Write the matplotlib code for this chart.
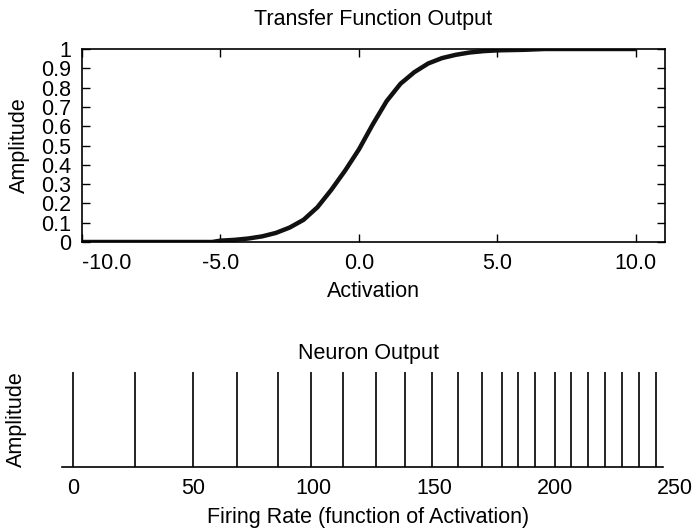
import numpy as np
import matplotlib
matplotlib.use('Agg')
import matplotlib.pyplot as plt

plt.rcParams['font.family'] = ['Liberation Sans', 'DejaVu Sans']
plt.rcParams['axes.unicode_minus'] = False

# transfer function
activation = [-10, -8, -6, -5.3, -5, -4.5, -4, -3.5, -3, -2.5, -2, -1.5,
              -1, -0.5, 0, 0.5, 1, 1.5, 2, 2.5, 3, 3.5, 4, 4.5, 5, 6, 6.7, 8, 10]
amplitude = [0.0, 0.0, 0.0, 0.0, 0.007, 0.011, 0.018, 0.029, 0.047, 0.075, 0.115,
             0.18, 0.27, 0.37, 0.48, 0.61, 0.73, 0.82, 0.88, 0.925, 0.953,
             0.97, 0.982, 0.989, 0.993, 0.996, 1.0, 1.0, 1.0]

x_ticks = [-10, -5, 0, 5, 10]
x_ticklabels = ['-10.0', '-5.0', '0.0', '5.0', '10.0']
y_ticks = [0, 0.1, 0.2, 0.3, 0.4, 0.5, 0.6, 0.7, 0.8, 0.9, 1.0]
y_ticklabels = ['0', '0.1', '0.2', '0.3', '0.4', '0.5', '0.6', '0.7', '0.8', '0.9', '1']

# spike train
spike_times = [0, 26, 50, 68, 85, 99, 112, 126, 138, 149, 160, 170, 178, 185,
               192, 200, 207, 214, 221, 228, 235, 242]
rate_ticks = [0, 50, 100, 150, 200, 250]

W, H = 695, 530
fig = plt.figure(figsize=(W / 100, H / 100), dpi=100)
FS = 15.5
TS = 15.5

# --- top panel ---
ax1 = fig.add_axes([82 / W, 1 - 242 / H, (665 - 82) / W, (242 - 49) / H])
ax1.plot(activation, amplitude, color='#111111', linewidth=3.2, solid_capstyle='butt')
ax1.set_xlim(-10, 11.05)
ax1.set_ylim(0, 1)
ax1.set_xticks(x_ticks)
ax1.set_xticklabels(x_ticklabels)
ax1.set_yticks(y_ticks)
ax1.set_yticklabels(y_ticklabels)
ax1.tick_params(direction='in', top=True, right=True, length=6, width=1,
                labelsize=TS, colors='black')
ax1.tick_params(axis='y', pad=8)
ax1.tick_params(axis='x', pad=8)
for s in ax1.spines.values():
    s.set_linewidth(1.2)
ax1.set_xlabel('Activation', fontsize=FS, labelpad=5)
ax1.set_ylabel('Amplitude', fontsize=FS, labelpad=8)
ax1.set_title('Transfer Function Output', fontsize=FS, pad=17)
ax1.get_xticklabels()[0].set_horizontalalignment('left')

# --- bottom panel ---
ax2 = fig.add_axes([62 / W, 1 - 467 / H, (675 - 62) / W, (467 - 372) / H])
ax2.vlines(spike_times, 0, 1, color='black', linewidth=1.2)
ax2.set_xlim(-4.5, 250)
ax2.set_ylim(0, 1)
ax2.set_xticks(rate_ticks)
ax2.set_yticks([])
for side in ['top', 'right', 'left']:
    ax2.spines[side].set_visible(False)
ax2.spines['bottom'].set_bounds(-4.5, 245)
ax2.spines['bottom'].set_linewidth(1.2)
ax2.tick_params(axis='x', length=0, labelsize=TS, pad=8)
ax2.set_xlabel('Firing Rate (function of Activation)', fontsize=FS, labelpad=6)
ax2.set_ylabel('Amplitude', fontsize=FS, labelpad=25)
ax2.set_title('Neuron Output', fontsize=FS, pad=9)

fig.savefig('out.png', dpi=100)
